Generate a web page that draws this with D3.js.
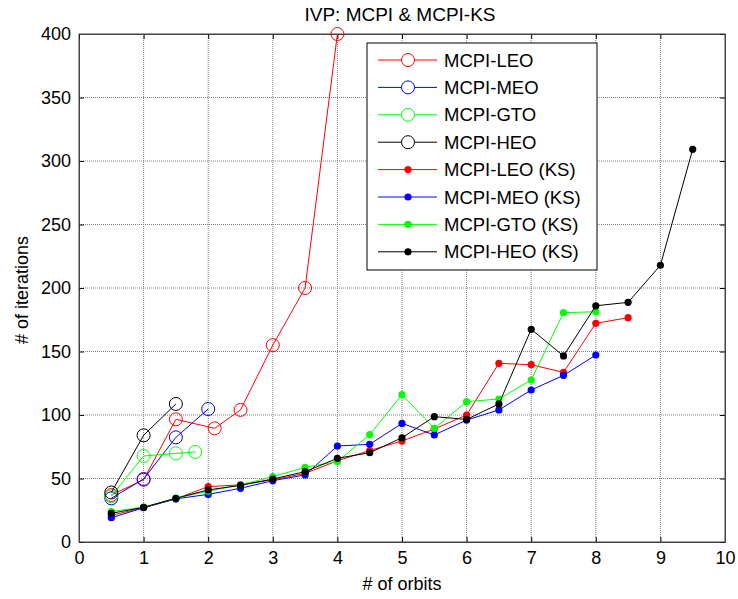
<!DOCTYPE html>
<html><head><meta charset="utf-8">
<script src="https://cdn.jsdelivr.net/npm/d3@7"></script>
<style>body{margin:0;background:#fff}text{font-family:"Liberation Sans",Arial,sans-serif;fill:#000}</style>
</head><body><svg id="c" width="738" height="599"></svg>
<script>
const xTicks=[0,1,2,3,4,5,6,7,8,9,10];
const yTicks=[0,50,100,150,200,250,300,350,400];
// open-circle series (MCPI)
const leoX=[0.5,1,1.5,2.1,2.5,3,3.5,4];
const leoY=[37,49,96.6,89.5,104,155,200,400];
const meoX=[0.5,1,1.5,2];
const meoY=[34.4,49.6,82.4,104.7];
const gtoX=[0.5,1,1.5,1.8];
const gtoY=[36,67.7,69.8,70.9];
const heoX=[0.5,1,1.5];
const heoY=[39,84,108.7];
// KS series (filled dots)
const ksX=[0.5,1,1.5,2,2.5,3,3.5,4,4.5,5,5.5,6,6.5,7,7.5,8,8.5,9,9.5];
const leoKS=[21,27,34,43.6,45,49,54,64,72,79.5,89,100,140.7,139.6,133.6,172.2,176.6];
const meoKS=[19.1,27,34,37.5,42.3,48.3,52.8,75.6,76.9,93.4,84.3,96,104,119.7,131.2,147.2];
const gtoKS=[24,27.5,34.5,40,45,51.4,58.8,63.3,84.5,116,89.5,110.5,112.6,127.5,180.6,181.3];
const heoKS=[22.6,27.3,34.4,41,44.6,49.6,55.4,65.9,70.3,82.1,98.7,96.5,108.7,167.5,146.5,186,188.7,217.9,309.2];
const names=["MCPI-LEO","MCPI-MEO","MCPI-GTO","MCPI-HEO","MCPI-LEO (KS)","MCPI-MEO (KS)","MCPI-GTO (KS)","MCPI-HEO (KS)"];
const colors=["#ff0000","#0000ff","#00ff00","#000000"];

const svg=d3.select("#c");
const L=79,R=725,T=34,B=542;
const x=d3.scaleLinear().domain([0,10]).range([L,R]);
const y=d3.scaleLinear().domain([0,400]).range([B,T]);

// grid
const g=svg.append("g");
g.selectAll(".gx").data(xTicks.slice(1,-1)).join("line")
 .attr("x1",d=>x(d)).attr("x2",d=>x(d)).attr("y1",T).attr("y2",B)
 .attr("stroke","#808080").attr("stroke-dasharray","1,1");
g.selectAll(".gy").data(yTicks.slice(1,-1)).join("line")
 .attr("y1",d=>y(d)).attr("y2",d=>y(d)).attr("x1",L).attr("x2",R)
 .attr("stroke","#808080").attr("stroke-dasharray","1,1");

// axes
const ax=d3.axisBottom(x).tickValues(xTicks).tickSize(-5).tickPadding(9);
const ay=d3.axisLeft(y).tickValues(yTicks).tickSize(-5).tickPadding(8);
svg.append("g").attr("transform",`translate(0,${B})`).call(ax);
svg.append("g").attr("transform",`translate(${L},0)`).call(ay);
svg.append("g").attr("transform",`translate(0,${T})`).call(d3.axisTop(x).tickValues(xTicks).tickSize(-5).tickFormat(""));
svg.append("g").attr("transform",`translate(${R},0)`).call(d3.axisRight(y).tickValues(yTicks).tickSize(-5).tickFormat(""));
svg.selectAll(".domain").attr("stroke","#444");
svg.selectAll(".tick line").attr("stroke","#000");
svg.selectAll(".tick text").style("font-size","18px").attr("fill","#000");
svg.append("rect").attr("x",L).attr("y",T).attr("width",R-L).attr("height",B-T).attr("fill","none").attr("stroke","#444");

// series
const open=[[leoX,leoY],[meoX,meoY],[gtoX,gtoY],[heoX,heoY]];
const ks=[leoKS,meoKS,gtoKS,heoKS];
const line=d3.line().x(d=>x(d[0])).y(d=>y(d[1]));
open.forEach(([xs,ys],i)=>{
  const pts=xs.map((v,j)=>[v,ys[j]]);
  svg.append("path").attr("d",line(pts)).attr("fill","none").attr("stroke",colors[i]).attr("stroke-width",1);
  svg.selectAll(null).data(pts).join("circle").attr("cx",d=>x(d[0])).attr("cy",d=>y(d[1])).attr("r",6.5)
   .attr("fill","none").attr("stroke",colors[i]).attr("stroke-width",1);
});
ks.forEach((ys,i)=>{
  const pts=ys.map((v,j)=>[ksX[j],v]);
  svg.append("path").attr("d",line(pts)).attr("fill","none").attr("stroke",colors[i]).attr("stroke-width",1);
  svg.selectAll(null).data(pts).join("circle").attr("cx",d=>x(d[0])).attr("cy",d=>y(d[1])).attr("r",3.6)
   .attr("fill",colors[i]);
});

// legend
const lg=svg.append("g");
lg.append("rect").attr("x",367).attr("y",43).attr("width",230).attr("height",227).attr("fill","#fff").attr("stroke","#000");
names.forEach((n,i)=>{
  const cy=60+i*27.4, c=colors[i%4];
  lg.append("line").attr("x1",378).attr("x2",437).attr("y1",cy).attr("y2",cy).attr("stroke",c);
  if(i<4) lg.append("circle").attr("cx",408).attr("cy",cy).attr("r",6.5).attr("fill","#fff").attr("stroke",c);
  else lg.append("circle").attr("cx",408).attr("cy",cy).attr("r",3.6).attr("fill",c);
  lg.append("text").attr("x",444).attr("y",cy+6.5).style("font-size","18.5px").text(n);
});

// titles
svg.append("text").attr("x",400).attr("y",21).attr("text-anchor","middle").style("font-size","19px").text("IVP: MCPI & MCPI-KS");
svg.append("text").attr("x",402).attr("y",590).attr("text-anchor","middle").style("font-size","18px").text("# of orbits");
svg.append("text").attr("transform","translate(28,290) rotate(-90)").attr("text-anchor","middle").style("font-size","18px").text("# of iterations");
</script></body></html>
